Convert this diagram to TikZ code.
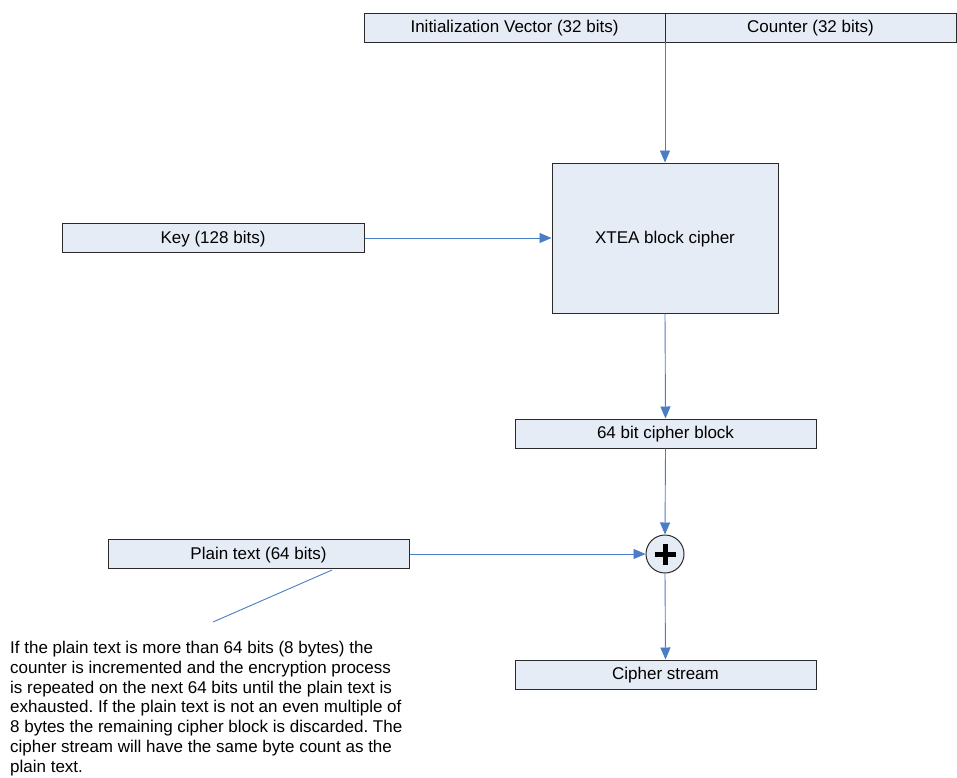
\documentclass[tikz,border=0pt]{standalone}
\usepackage{fontspec}
\setmainfont{Liberation Sans}
\usetikzlibrary{arrows.meta}
\definecolor{boxfill}{HTML}{E6ECF6}
\definecolor{arrowblue}{HTML}{4A7EC4}
\definecolor{boxline}{HTML}{2A2A2A}
\frenchspacing
\begin{document}
\begin{tikzpicture}[x=1pt,y=-1pt,
  blk/.style={draw=boxline,fill=boxfill,line width=1pt,inner sep=0pt,font=\fontsize{17}{19}\selectfont,text height=12pt,text depth=2pt},
  conn/.style={draw=arrowblue,line width=0.9pt,-{Triangle[length=12pt,width=10pt]}},
  callout/.style={draw=arrowblue,line width=0.9pt}]
\useasboundingbox (0,0) rectangle (957,777);
\node[blk,minimum width=301pt,minimum height=29pt] (iv) at (514.5,27.5) {Initialization Vector (32 bits)};
\node[blk,minimum width=291pt,minimum height=29pt] (ctr) at (810.5,27.5) {Counter (32 bits)};
\node[blk,minimum width=226pt,minimum height=150pt] (xtea) at (665,238) {XTEA block cipher};
\node[blk,minimum width=302pt,minimum height=29pt] (key) at (213,238) {Key (128 bits)};
\node[blk,minimum width=301pt,minimum height=29pt] (cb) at (665.5,433.5) {64 bit cipher block};
\node[blk,minimum width=301pt,minimum height=29pt] (pt) at (258.5,554) {Plain text (64 bits)};
\node[blk,circle,minimum size=38pt,text height=0pt,text depth=0pt] (xor) at (665,554) {};
\draw[line width=5pt] ([xshift=-10.5pt]xor.center) -- ([xshift=10.5pt]xor.center)
  ([yshift=-10.5pt]xor.center) -- ([yshift=10.5pt]xor.center);
\node[blk,minimum width=301pt,minimum height=29pt] (cs) at (665.5,674.5) {Cipher stream};
\coordinate (ivsplit) at (665,42);
\draw[conn] (ivsplit) -- (xtea.north);
\draw[conn] (key.east) -- (xtea.west);
\draw[conn] (xtea.south) -- (cb.north);
\draw[conn] (cb.south) -- (xor.north);
\draw[conn] (pt.east) -- (xor.west);
\draw[conn] (xor.south) -- (cs.north);
\coordinate (cfrom) at (332,570);
\coordinate (cto) at (213,622);
\draw[callout] (cfrom) -- (cto);
\node[anchor=north west,align=left,inner sep=0pt,font=\fontsize{17}{19.8}\selectfont] (note) at (10,641)
 {If the plain text is more than 64 bits (8 bytes) the\\
  counter is incremented and the encryption process\\
  is repeated on the next 64 bits until the plain text is\\
  exhausted. If the plain text is not an even multiple of\\
  8 bytes the remaining cipher block is discarded. The\\
  cipher stream will have the same byte count as the\\
  plain text.};
\end{tikzpicture}
\end{document}
